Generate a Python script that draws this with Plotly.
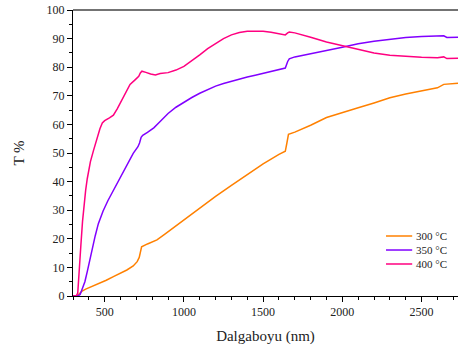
import plotly.graph_objects as go

# 400 °C
wl_400 = [300, 320, 330, 340, 350, 360, 370, 380, 390, 410, 430, 450, 470, 485, 500, 530, 555, 580, 620, 660, 690, 715, 725, 735, 760, 790, 820, 850, 900, 950, 1000, 1050, 1100, 1150, 1200, 1250, 1300, 1350, 1400, 1450, 1500, 1550, 1600, 1640, 1655, 1665, 1700, 1750, 1800, 1900, 2000, 2100, 2200, 2300, 2400, 2500, 2600, 2640, 2660, 2730]
t_400 = [0, 0, 1, 8, 18, 26, 32, 37, 41, 47, 51, 55, 58.5, 60.5, 61.3, 62.3, 63.2, 65.5, 70, 74, 75.5, 76.8, 78, 78.6, 78.2, 77.6, 77.3, 77.8, 78.1, 79, 80.3, 82.2, 84.3, 86.5, 88.4, 90, 91.3, 92.1, 92.6, 92.7, 92.6, 92.2, 91.7, 91.3, 92, 92.3, 92, 91.3, 90.5, 88.8, 87.5, 86.2, 85, 84.2, 83.8, 83.5, 83.3, 83.6, 83, 83.1]

# 350 °C
wl_350 = [300, 330, 345, 360, 375, 390, 405, 420, 440, 460, 490, 520, 560, 600, 640, 680, 710, 720, 730, 740, 770, 810, 850, 900, 950, 1000, 1050, 1100, 1150, 1200, 1250, 1300, 1350, 1400, 1450, 1500, 1550, 1600, 1640, 1655, 1665, 1700, 1800, 1900, 2000, 2100, 2200, 2300, 2400, 2500, 2600, 2640, 2660, 2730]
t_350 = [0, 0, 0.5, 2.5, 5, 8.5, 12.5, 16.5, 21, 25.3, 29.7, 33.3, 37.5, 42, 46, 49.9, 52.2, 53.5, 55.5, 56.2, 57.2, 58.8, 61, 63.8, 66, 67.8, 69.4, 70.9, 72.2, 73.4, 74.3, 75.1, 75.9, 76.6, 77.2, 77.9, 78.5, 79.1, 79.7, 82, 82.9, 83.6, 84.6, 85.8, 87, 88.2, 89.1, 89.8, 90.4, 90.7, 90.8, 91, 90.4, 90.5]

# 300 °C
wl_300 = [300, 325, 340, 355, 380, 420, 470, 510, 555, 600, 640, 680, 705, 718, 725, 733, 770, 830, 880, 950, 1000, 1100, 1200, 1300, 1400, 1500, 1600, 1640, 1650, 1660, 1700, 1800, 1900, 2000, 2100, 2200, 2300, 2400, 2500, 2600, 2640, 2700, 2730]
t_300 = [0, 0, 0.8, 1.6, 2.4, 3.3, 4.4, 5.5, 6.8, 8, 9.1, 10.5, 12, 13.5, 16, 17.2, 18.2, 19.6, 21.6, 24.5, 26.6, 30.8, 34.8, 38.7, 42.4, 46.2, 49.5, 50.6, 53.5, 56.5, 57.3, 59.7, 62.4, 64.2, 65.8, 67.5, 69.3, 70.6, 71.8, 72.8, 74, 74.3, 74.4]

series_names = ["300 °C", "350 °C", "400 °C"]
series_colors = ["#FF8000", "#8000FF", "#FF0080"]

FONT = "Liberation Serif, Times New Roman, serif"

fig = go.Figure()
for (wl, t), name, col in zip([(wl_300, t_300), (wl_350, t_350), (wl_400, t_400)], series_names, series_colors):
    fig.add_trace(go.Scatter(x=wl, y=t, mode="lines", name=name,
                             line=dict(color=col, width=1.5), showlegend=False))

fig.update_layout(
    width=458, height=351,
    margin=dict(l=73, r=0, t=10, b=55),
    paper_bgcolor="white", plot_bgcolor="white",
    font=dict(family=FONT, size=12, color="#222"),
    showlegend=False,
    xaxis=dict(range=[300, 2730], tickvals=[500, 1000, 1500, 2000, 2500],
               showgrid=False, zeroline=False, showline=True, linecolor="black", linewidth=1,
               ticks="outside", ticklen=5, tickcolor="black",
               minor=dict(dtick=100, tick0=0, ticks="outside", ticklen=3, tickcolor="black"),
               title=dict(text="Dalgaboyu (nm)", font=dict(family=FONT, size=15, color="#222"), standoff=12),
               tickfont=dict(family=FONT, size=12, color="#222")),
    yaxis=dict(range=[0, 100], dtick=10, tick0=0,
               showgrid=False, zeroline=False, showline=True, linecolor="black", linewidth=1,
               ticks="outside", ticklen=5, tickcolor="black",
               minor=dict(dtick=5, ticks="outside", ticklen=3, tickcolor="black"),
               title=dict(text="T %", font=dict(family=FONT, size=15, color="#222"), standoff=18),
               tickfont=dict(family=FONT, size=12, color="#222")),
)
fig.add_shape(type="line", xref="paper", yref="paper", x0=0, x1=1, y0=1, y1=1,
              line=dict(color="#444", width=1.5))

# manual compact legend
leg_y = [0.2098, 0.1608, 0.1119]
for yy, name, col in zip(leg_y, series_names, series_colors):
    fig.add_shape(type="line", xref="paper", yref="paper", x0=0.813, x1=0.881, y0=yy, y1=yy,
                  line=dict(color=col, width=1.5))
    fig.add_annotation(xref="paper", yref="paper", x=0.886, y=yy, text=name, showarrow=False,
                       xanchor="left", yanchor="middle",
                       font=dict(family=FONT, size=11, color="#222"))

fig.write_html("out.html", config={"displayModeBar": False},
               post_script="document.body.style.margin='0';document.body.style.overflow='hidden';")
